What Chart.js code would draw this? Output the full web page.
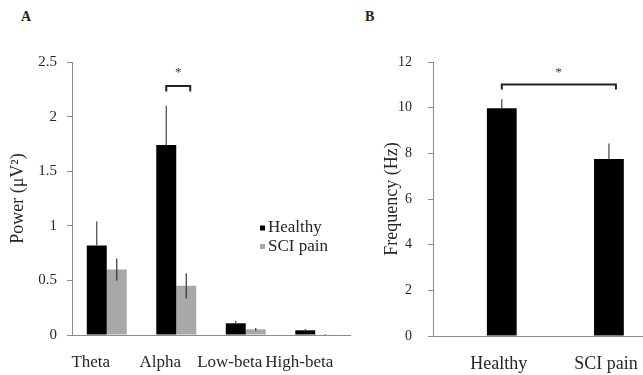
<!DOCTYPE html>
<html>
<head>
<meta charset="utf-8">
<script src="https://cdn.jsdelivr.net/npm/chart.js@4.4.0/dist/chart.umd.min.js"></script>
<style>
    body { margin: 0; background: #fff; width: 643px; height: 375px; position: relative; overflow: hidden; font-family: 'Liberation Serif', serif; }
    .panel { position: absolute; top: 10px; font-weight: bold; font-size: 14px; line-height: 1; color: #222; }
    #powerChart { position: absolute; left: 0; top: 0; }
    #freqChart { position: absolute; left: 374px; top: 0; }
</style>
</head>
<body>
<div class="panel" style="left:21px">A</div>
<div class="panel" style="left:365px">B</div>
<canvas id="powerChart" width="360" height="375"></canvas>
<canvas id="freqChart" width="300" height="375"></canvas>
<script>
// panel A - band power
const bands = ['Theta', 'Alpha', 'Low-beta', 'High-beta'];
const healthyPower = [0.82, 1.74, 0.107, 0.043];
const healthyPowerErr = [0.22, 0.36, 0.021, 0.012];
const painPower = [0.60, 0.45, 0.052, 0.004];
const painPowerErr = [0.10, 0.115, 0.012, 0.003];
const powerTicks = [0, 0.5, 1, 1.5, 2, 2.5];

// panel B - peak frequency
const groups = ['Healthy', 'SCI pain'];
const peakFreq = [9.97, 7.75];
const peakFreqErr = [0.40, 0.68];
const freqTicks = [0, 2, 4, 6, 8, 10, 12];

const axisColor = '#8c8c8c';
const textColor = '#262626';
const serif = "'Liberation Serif', 'Times New Roman', serif";

// error bars drawn on top of the bars (lower half is hidden in black bars)
const errorBars = {
    id: 'errorBars',
    afterDatasetsDraw(chart) {
        const ctx = chart.ctx;
        const yScale = chart.scales.y;
        ctx.save();
        ctx.lineWidth = 1.2;
        chart.data.datasets.forEach((ds, di) => {
            const meta = chart.getDatasetMeta(di);
            ctx.strokeStyle = ds.errorColor;
            meta.data.forEach((bar, i) => {
                const v = meta.controller.getParsed(i).y;
                const e = ds.errors[i];
                ctx.beginPath();
                ctx.moveTo(bar.x, yScale.getPixelForValue(ds.errorBelow ? v - e : v));
                ctx.lineTo(bar.x, yScale.getPixelForValue(v + e));
                ctx.stroke();
            });
        });
        ctx.restore();
    }
};

// significance bracket with a star
const sigBracket = {
    id: 'sigBracket',
    afterDraw(chart, args, opts) {
        const ctx = chart.ctx;
        const yScale = chart.scales.y;
        const a = chart.getDatasetMeta(opts.fromDataset).data[opts.fromIndex];
        const b = chart.getDatasetMeta(opts.toDataset).data[opts.toIndex];
        const top = yScale.getPixelForValue(opts.level);
        const leg = yScale.getPixelForValue(opts.level - opts.leg);
        ctx.save();
        ctx.strokeStyle = '#222';
        ctx.lineWidth = 2;
        ctx.beginPath();
        ctx.moveTo(a.x, leg);
        ctx.lineTo(a.x, top);
        ctx.lineTo(b.x + opts.extra, top);
        ctx.lineTo(b.x + opts.extra, leg);
        ctx.stroke();
        ctx.fillStyle = '#333';
        ctx.font = '13px ' + serif;
        ctx.textAlign = 'center';
        ctx.textBaseline = 'middle';
        ctx.fillText('*', (a.x + b.x + opts.extra) / 2, yScale.getPixelForValue(opts.star));
        ctx.restore();
    }
};

// small legend placed inside the plot
const innerLegend = {
    id: 'innerLegend',
    afterDraw(chart, args, opts) {
        if (!opts.show) return;
        const ctx = chart.ctx;
        ctx.save();
        ctx.font = '17px ' + serif;
        ctx.textBaseline = 'middle';
        chart.data.datasets.forEach((ds, i) => {
            const y = opts.y + i * opts.gap;
            ctx.fillStyle = ds.backgroundColor;
            ctx.fillRect(opts.x, y - 2.5, 5, 5);
            ctx.fillStyle = textColor;
            ctx.fillText(ds.label, opts.x + 8, y);
        });
        ctx.restore();
    }
};

Chart.register(errorBars, sigBracket, innerLegend);

new Chart(document.getElementById('powerChart'), {
    type: 'bar',
    data: {
        labels: bands,
        datasets: [{
            label: 'Healthy',
            data: healthyPower,
            errors: healthyPowerErr,
            errorColor: '#444',
            errorBelow: false,
            backgroundColor: '#000000'
        }, {
            label: 'SCI pain',
            data: painPower,
            errors: painPowerErr,
            errorColor: '#333',
            errorBelow: true,
            backgroundColor: '#a8a8a8'
        }]
    },
    options: {
        responsive: false,
        animation: false,
        categoryPercentage: 0.575,
        barPercentage: 1,
        layout: { padding: { top: 62, right: 10, left: 0, bottom: 0 } },
        scales: {
            x: {
                afterFit: s => { s.height = 40; },
                grid: { display: false },
                border: { display: true, color: axisColor, width: 1 },
                ticks: {
                    autoSkip: false,
                    maxRotation: 0,
                    labelOffset: -16,
                    padding: 9,
                    color: textColor,
                    font: { family: serif, size: 17 }
                }
            },
            y: {
                min: 0,
                max: 2.5,
                afterFit: s => { s.width = 72; },
                afterBuildTicks: s => { s.ticks = powerTicks.map(v => ({ value: v })); },
                grid: { drawOnChartArea: false, color: axisColor, tickLength: 5 },
                border: { color: axisColor, width: 1 },
                ticks: {
                    padding: 10,
                    color: textColor,
                    font: { family: serif, size: 15 },
                    callback: v => String(v)
                },
                title: {
                    display: true,
                    text: 'Power (\u03bcV\u00b2)',
                    color: textColor,
                    padding: { top: 7, bottom: 0 },
                    font: { family: serif, size: 18 }
                }
            }
        },
        plugins: {
            legend: { display: false },
            tooltip: { enabled: false },
            innerLegend: { show: true, x: 260, y: 228, gap: 18.5 },
            sigBracket: { fromDataset: 0, fromIndex: 1, toDataset: 1, toIndex: 1, extra: 4, level: 2.28, leg: 0.05, star: 2.40 }
        }
    }
});

new Chart(document.getElementById('freqChart'), {
    type: 'bar',
    data: {
        datasets: [{
            label: 'Peak frequency',
            data: peakFreq.map((v, i) => ({ x: i + 1, y: v })),
            errors: peakFreqErr,
            errorColor: '#444',
            errorBelow: false,
            backgroundColor: '#000000'
        }]
    },
    options: {
        responsive: false,
        animation: false,
        categoryPercentage: 0.278,
        barPercentage: 1,
        layout: { padding: { top: 62, right: 31, left: 0, bottom: 0 } },
        scales: {
            x: {
                type: 'linear',
                offset: false,
                min: 0.358,
                max: 2.318,
                afterFit: s => { s.height = 39; },
                afterBuildTicks: s => { s.ticks = groups.map((g, i) => ({ value: i + 1 })); },
                grid: { display: false },
                border: { display: true, color: axisColor, width: 1 },
                ticks: {
                    autoSkip: false,
                    maxRotation: 0,
                    labelOffset: -3,
                    padding: 9,
                    color: textColor,
                    font: { family: serif, size: 18 },
                    callback: v => groups[v - 1]
                }
            },
            y: {
                min: 0,
                max: 12,
                afterFit: s => { s.width = 59; },
                afterBuildTicks: s => { s.ticks = freqTicks.map(v => ({ value: v })); },
                grid: { drawOnChartArea: false, color: axisColor, tickLength: 5 },
                border: { color: axisColor, width: 1 },
                ticks: { padding: 16, color: textColor, font: { family: serif, size: 14 } },
                title: {
                    display: true,
                    text: 'Frequency (Hz)',
                    color: textColor,
                    padding: { top: 7, bottom: 0 },
                    font: { family: serif, size: 18 }
                }
            }
        },
        plugins: {
            legend: { display: false },
            tooltip: { enabled: false },
            innerLegend: { show: false },
            sigBracket: { fromDataset: 0, fromIndex: 0, toDataset: 0, toIndex: 1, extra: 7, level: 11.02, leg: 0.22, star: 11.55 }
        }
    }
});
</script>
</body>
</html>
